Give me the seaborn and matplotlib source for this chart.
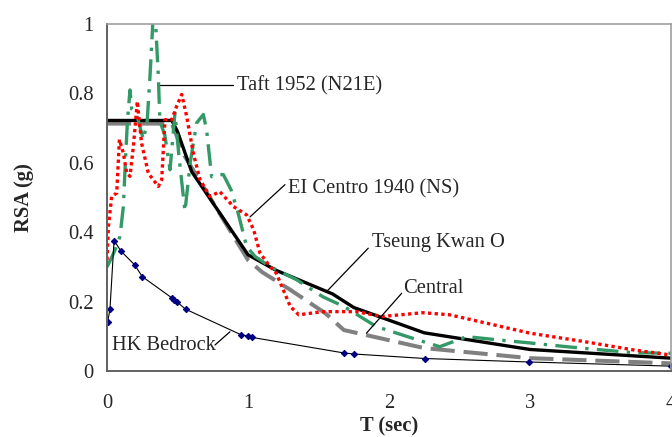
import numpy as np
import pandas as pd
import matplotlib
matplotlib.use("Agg")
import matplotlib.pyplot as plt
import seaborn as sns

# period (sec) and spectral acceleration (g)
bedrock_t = [0.005, 0.021, 0.05, 0.10, 0.196, 0.25, 0.459, 0.478, 0.496, 0.558,
             0.953, 0.998, 1.026, 1.68, 1.75, 2.255, 2.995, 4.0]
bedrock_rsa = [0.142, 0.178, 0.376, 0.345, 0.306, 0.272, 0.211, 0.205, 0.199, 0.178,
               0.104, 0.101, 0.097, 0.052, 0.049, 0.036, 0.026, 0.014]

tko_t = [0, 0.46, 0.5, 0.6, 1.0, 1.2, 1.6, 1.75, 2.25, 3.0, 4.0]
tko_rsa = [0.722, 0.722, 0.69, 0.575, 0.335, 0.29, 0.222, 0.183, 0.11, 0.062, 0.037]

central_t = [0, 0.46, 0.55, 1.0, 1.1, 1.3, 1.55, 1.68, 2.25, 3.0, 4.0]
central_rsa = [0.713, 0.713, 0.62, 0.32, 0.285, 0.234, 0.166, 0.118, 0.066, 0.037, 0.022]

elcentro_t = [0, 0.01, 0.033, 0.069, 0.088, 0.116, 0.14, 0.163, 0.187, 0.215, 0.245,
              0.293, 0.364, 0.388, 0.411, 0.459, 0.494, 0.53, 0.565, 0.612, 0.66,
              0.73, 0.80, 0.896, 0.99, 1.04, 1.085, 1.156, 1.2, 1.30, 1.36, 1.53,
              1.77, 1.95, 2.24, 2.43, 2.69, 3.0, 3.38, 3.73, 4.0]
elcentro_rsa = [0.32, 0.416, 0.503, 0.513, 0.667, 0.628, 0.57, 0.561, 0.647, 0.777, 0.657,
                0.57, 0.532, 0.551, 0.724, 0.724, 0.763, 0.797, 0.734, 0.628, 0.551,
                0.503, 0.517, 0.474, 0.45, 0.407, 0.34, 0.301, 0.282, 0.186, 0.162, 0.171,
                0.171, 0.157, 0.168, 0.162, 0.138, 0.109, 0.085, 0.061, 0.046]

taft_t = [0.0, 0.02, 0.057, 0.092, 0.116, 0.13, 0.145, 0.163, 0.175, 0.21, 0.258,
          0.285, 0.305, 0.335, 0.364, 0.375, 0.41, 0.447, 0.482, 0.51, 0.553, 0.59,
          0.636, 0.683, 0.706, 0.742, 0.79, 0.825, 0.88, 0.93, 0.99, 1.05, 1.156,
          1.345, 1.53, 1.68, 1.91, 2.17, 2.36, 2.55, 2.79, 3.02, 3.26, 3.5, 3.73, 4.0]
taft_rsa = [0.30, 0.316, 0.349, 0.388, 0.474, 0.6, 0.72, 0.81, 0.755, 0.74, 0.667,
            0.72, 0.85, 1.08, 0.85, 0.72, 0.68, 0.58, 0.744, 0.62, 0.46, 0.6,
            0.715, 0.739, 0.696, 0.56, 0.566, 0.566, 0.522, 0.455, 0.359, 0.33, 0.301,
            0.263, 0.214, 0.186, 0.128, 0.094, 0.07, 0.099, 0.089, 0.08, 0.07, 0.061, 0.053, 0.051]

x_ticks = [0, 1, 2, 3, 4]
y_ticks = [0, 0.2, 0.4, 0.6, 0.8, 1.0]
y_tick_labels = ["0", "0.2", "0.4", "0.6", "0.8", "1"]

sns.set_style("white")
plt.rcParams['font.family'] = ['Liberation Serif', 'DejaVu Serif']
fs = 14.8

fig = plt.figure(figsize=(6.72, 4.37), dpi=100)
ax = fig.add_axes([107 / 672, 66 / 437, 564 / 672, 347 / 437])

sns.lineplot(x=central_t, y=central_rsa, ax=ax, color='#808080', lw=2.9,
             linestyle=(0, (6.0, 2.2)), dash_capstyle='butt')
sns.lineplot(x=tko_t, y=tko_rsa, ax=ax, color='black', lw=2.4)
sns.lineplot(x=taft_t, y=taft_rsa, ax=ax, color='#339966', lw=2.4,
             linestyle=(0, (6.5, 2.5, 1, 2.5)), dash_capstyle='butt')
sns.lineplot(x=elcentro_t, y=elcentro_rsa, ax=ax, color='#ff0000', lw=2.4,
             linestyle=(0, (1, 1)), dash_capstyle='butt')
sns.lineplot(x=bedrock_t, y=bedrock_rsa, ax=ax, color='black', lw=0.8,
             marker='D', markersize=3.2, markerfacecolor='#000080',
             markeredgecolor='#000080')

ax.set_xlim(0, 4)
ax.set_ylim(0, 1)
ax.set_xticks(x_ticks)
ax.set_xticklabels([str(t) for t in x_ticks], fontsize=fs)
ax.set_yticks(y_ticks)
ax.set_yticklabels(y_tick_labels, fontsize=fs)
ax.tick_params(axis='both', direction='out', length=5.8, width=0.9, color='#555555')
ax.tick_params(axis='x', pad=11)
ax.tick_params(axis='y', pad=4)

for side in ['left', 'bottom']:
    ax.spines[side].set_color('#606060')
    ax.spines[side].set_linewidth(1.4)
for side in ['top', 'right']:
    ax.spines[side].set_color('#a0a0a0')
    ax.spines[side].set_linewidth(1.2)

ax.set_xlabel('T (sec)', fontsize=fs, fontweight='bold')
ax.set_ylabel('RSA (g)', fontsize=fs, fontweight='bold')
ax.xaxis.set_label_coords(0.5, -0.132)
ax.yaxis.set_label_coords(-0.13, 0.5)

# leader lines and labels
labels = [
    ('Taft 1952 (N21E)', (0.92, 0.823), (0.376, 0.823), (0.894, 0.823)),
    ('EI Centro 1940 (NS)', (1.284, 0.525), (1.262, 0.537), (1.014, 0.444)),
    ('Tseung Kwan O', (1.879, 0.369), (1.853, 0.354), (1.558, 0.229)),
    ('Central', (2.10, 0.237), (2.09, 0.224), (1.84, 0.109)),
    ('HK Bedrock', (0.035, 0.074), (0.766, 0.075), (0.872, 0.113)),
]
for txt, pos, p0, p1 in labels:
    ax.plot([p0[0], p1[0]], [p0[1], p1[1]], color='black', lw=0.9)
    ax.text(pos[0], pos[1], txt, fontsize=fs, ha='left', va='center')

plt.savefig('out.png', dpi=100)
